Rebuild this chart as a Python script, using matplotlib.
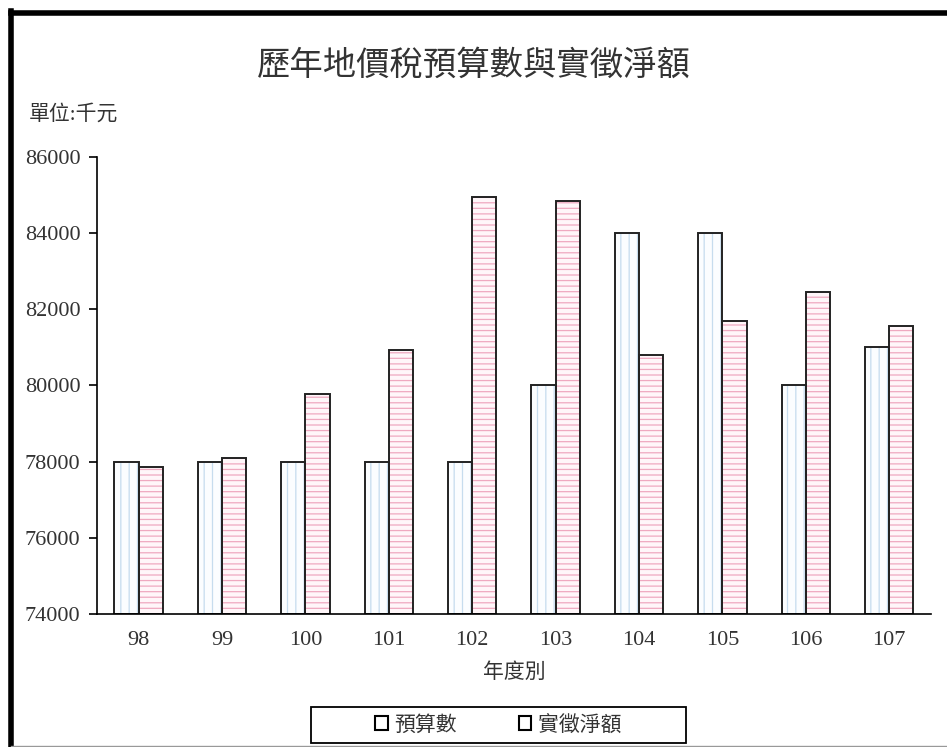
import matplotlib
matplotlib.use("Agg")
import matplotlib.pyplot as plt
from matplotlib.patches import Rectangle
from matplotlib.lines import Line2D
import numpy as np

plt.rcParams['font.family'] = ['Liberation Serif', 'Noto Sans CJK TC', 'DejaVu Sans']
plt.rcParams['hatch.linewidth'] = 0.9

years = ['98', '99', '100', '101', '102', '103', '104', '105', '106', '107']
budget = [78000, 78000, 78000, 78000, 78000, 80000, 84000, 84000, 80000, 81000]
actual = [77850, 78090, 79780, 80930, 84940, 84850, 80800, 81690, 82460, 81550]
series_names = ['預算數', '實徵淨額']
yticks = [74000, 76000, 78000, 80000, 82000, 84000, 86000]

fig = plt.figure(figsize=(9.47, 7.47), dpi=100)
ax = fig.add_axes([0.1024, 0.178, 0.8806, 0.612])

x = np.arange(len(years))
w = 0.29
base = yticks[0]
b_h = np.array(budget) - base
a_h = np.array(actual) - base

# pattern layers
ax.bar(x - w/2, b_h, w, bottom=base, color='#fbfdff', edgecolor='#c6dcee',
       hatch='||', linewidth=0)
ax.bar(x + w/2, a_h, w, bottom=base, color='#fff6f9', edgecolor='#efa9c0',
       hatch='---', linewidth=0)
# outlines
ax.bar(x - w/2, b_h, w, bottom=base, fill=False, edgecolor='#222222', linewidth=1.4)
ax.bar(x + w/2, a_h, w, bottom=base, fill=False, edgecolor='#222222', linewidth=1.4)

ax.set_xlim(-0.5, len(years) - 0.5)
ax.set_ylim(yticks[0], yticks[-1])
ax.set_yticks(yticks)
ax.set_yticklabels([str(v) for v in yticks])
ax.set_xticks(x)
ax.set_xticklabels(years)
ax.tick_params(axis='y', direction='out', length=6, width=1.2, labelsize=16,
               labelcolor='#333333', pad=6)
ax.tick_params(axis='x', length=0, labelsize=16, labelcolor='#333333', pad=12)
for s in ['top', 'right']:
    ax.spines[s].set_visible(False)
ax.spines['left'].set_linewidth(1.2)
ax.spines['bottom'].set_linewidth(1.2)

ax.set_xlabel('年度別', fontsize=15, color='#333333', labelpad=10)

fig.text(0.5, 0.912, '歷年地價稅預算數與實徵淨額', ha='center', va='center',
         fontsize=24, color='#333333')
fig.text(0.03, 0.846, '單位:千元', ha='left', va='center', fontsize=15, color='#333333')

handles = [Rectangle((0, 0), 1, 1, facecolor='white', edgecolor='black', linewidth=1.5),
           Rectangle((0, 0), 1, 1, facecolor='white', edgecolor='black', linewidth=1.5)]
leg = fig.legend(handles, series_names, loc='center', bbox_to_anchor=(0.526, 0.029),
                 ncol=2, fontsize=15, frameon=False,
                 handlelength=0.6, handleheight=0.6, handletextpad=0.3,
                 columnspacing=3.0, borderpad=0.3)
for t in leg.get_texts():
    t.set_color('#333333')
# legend frame
fig.add_artist(Rectangle((311/947, 1 - 743/747), 375/947, 36/747,
                         transform=fig.transFigure, fill=False,
                         edgecolor='black', linewidth=1.3))

# outer border (scanned frame)
fig.add_artist(Line2D([0.0116, 0.0116], [0.0, 0.985], transform=fig.transFigure,
                      color='black', linewidth=4))
fig.add_artist(Line2D([0.0116, 1.0], [0.983, 0.983], transform=fig.transFigure,
                      color='black', linewidth=4))
fig.add_artist(Line2D([0.0116, 1.0], [0.002, 0.002], transform=fig.transFigure,
                      color='#999999', linewidth=1))

fig.savefig('out.png', dpi=100, facecolor='white')
